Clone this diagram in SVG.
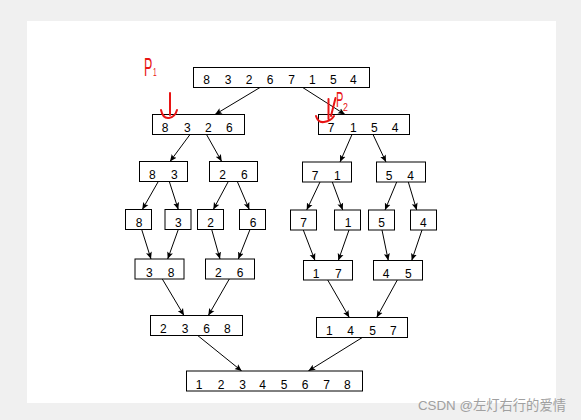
<svg xmlns="http://www.w3.org/2000/svg" width="581" height="420" viewBox="0 0 581 420">
<defs>
<marker id="ah" markerWidth="8" markerHeight="7" refX="7" refY="3.5" orient="auto" markerUnits="userSpaceOnUse">
<path d="M0,0.5 L7,3.5 L0,6.5 L1.5,3.5 z" fill="#000"/>
</marker>
<style>
.b{fill:#fff;stroke:#000;stroke-width:1}
.t{font-family:"Liberation Sans",Arial,sans-serif;font-size:12px;fill:#000;text-anchor:middle}
.c line{stroke:#000;stroke-width:1;marker-end:url(#ah)}
.r{fill:none;stroke:#e81414;stroke-width:2;stroke-linecap:round;stroke-linejoin:round}
.rt{font-family:"Liberation Sans",Arial,sans-serif;fill:#e81414}
</style>
</defs>
<rect x="0" y="0" width="581" height="420" fill="#f0f0f0"/>
<rect x="27" y="21" width="529" height="382" fill="#fff"/>

<g class="c" id="connectors">
<line x1="260" y1="87.5" x2="215" y2="114.5"/>
<line x1="302.7" y1="87.5" x2="345" y2="114.5"/>
<line x1="190" y1="134.5" x2="170" y2="161.5"/>
<line x1="206.5" y1="134.5" x2="221.7" y2="161.5"/>
<line x1="352" y1="134.5" x2="340" y2="162"/>
<line x1="373" y1="134.5" x2="386" y2="162"/>
<line x1="158.3" y1="181.5" x2="142.3" y2="209.5"/>
<line x1="169.3" y1="181.5" x2="178.3" y2="209.5"/>
<line x1="228.3" y1="181.5" x2="213.3" y2="209.5"/>
<line x1="237.3" y1="181.5" x2="249.3" y2="209.5"/>
<line x1="320" y1="182" x2="306.7" y2="210"/>
<line x1="332.3" y1="182" x2="342.7" y2="210"/>
<line x1="396.7" y1="182" x2="385" y2="210"/>
<line x1="408.3" y1="182" x2="416.7" y2="210"/>
<line x1="141.7" y1="229.5" x2="151" y2="259"/>
<line x1="178.3" y1="229.5" x2="167.7" y2="259"/>
<line x1="211.7" y1="229.5" x2="220" y2="259"/>
<line x1="250" y1="229.5" x2="238.3" y2="259"/>
<line x1="303.3" y1="230" x2="315" y2="260.5"/>
<line x1="349" y1="230" x2="338.3" y2="260.5"/>
<line x1="382" y1="230" x2="388.3" y2="260.5"/>
<line x1="422" y1="230" x2="411.7" y2="260.5"/>
<line x1="162.3" y1="279" x2="184" y2="315.5"/>
<line x1="229.3" y1="279" x2="208.3" y2="315.5"/>
<line x1="327.7" y1="280" x2="349.3" y2="317.5"/>
<line x1="397.3" y1="280" x2="376.7" y2="317.5"/>
<line x1="197.7" y1="335.5" x2="241.7" y2="371"/>
<line x1="362.3" y1="337.5" x2="308.3" y2="371"/>
</g>

<g id="n-top"><rect class="b" x="193.5" y="67.5" width="176" height="20"/>
<text class="t" y="84"><tspan x="206.7">8</tspan><tspan x="228">3</tspan><tspan x="249">2</tspan><tspan x="270">6</tspan><tspan x="291.7">7</tspan><tspan x="312.3">1</tspan><tspan x="333.3">5</tspan><tspan x="353.3">4</tspan></text></g>

<g id="n-8326"><rect class="b" x="152.5" y="114.5" width="92" height="20"/>
<text class="t" y="131.5"><tspan x="165">8</tspan><tspan x="187.3">3</tspan><tspan x="208.3">2</tspan><tspan x="229.3">6</tspan></text></g>
<g id="n-7154"><rect class="b" x="318.5" y="114.5" width="91" height="20"/>
<text class="t" y="131.5"><tspan x="331">7</tspan><tspan x="353.3">1</tspan><tspan x="374.3">5</tspan><tspan x="395">4</tspan></text></g>

<g id="n-83"><rect class="b" x="139.5" y="161.5" width="48" height="20"/>
<text class="t" y="179"><tspan x="152.3">8</tspan><tspan x="174.3">3</tspan></text></g>
<g id="n-26a"><rect class="b" x="209.5" y="161.5" width="48" height="20"/>
<text class="t" y="179"><tspan x="222.7">2</tspan><tspan x="244.3">6</tspan></text></g>
<g id="n-71"><rect class="b" x="302.5" y="162" width="49" height="20"/>
<text class="t" y="179.5"><tspan x="315">7</tspan><tspan x="337.3">1</tspan></text></g>
<g id="n-54"><rect class="b" x="376.5" y="162" width="49" height="20"/>
<text class="t" y="179.5"><tspan x="389">5</tspan><tspan x="410.7">4</tspan></text></g>

<g id="n-8"><rect class="b" x="125.5" y="209.5" width="26" height="20"/><text class="t" x="139" y="226.5">8</text></g>
<g id="n-3"><rect class="b" x="165" y="209.5" width="26" height="20"/><text class="t" x="178.3" y="226.5">3</text></g>
<g id="n-2"><rect class="b" x="197.5" y="209.5" width="26" height="20"/><text class="t" x="210.7" y="226.5">2</text></g>
<g id="n-6"><rect class="b" x="239.5" y="209.5" width="26" height="20"/><text class="t" x="253" y="226.5">6</text></g>
<g id="n-7"><rect class="b" x="290.5" y="210" width="26" height="20"/><text class="t" x="303.5" y="227">7</text></g>
<g id="n-1"><rect class="b" x="334.5" y="210" width="26" height="20"/><text class="t" x="348" y="227">1</text></g>
<g id="n-5"><rect class="b" x="368.5" y="210" width="26" height="20"/><text class="t" x="381.7" y="227">5</text></g>
<g id="n-4"><rect class="b" x="410.5" y="210" width="26" height="20"/><text class="t" x="423.3" y="227">4</text></g>

<g id="n-38"><rect class="b" x="135" y="259" width="49" height="20"/>
<text class="t" y="276.5"><tspan x="149.3">3</tspan><tspan x="171">8</tspan></text></g>
<g id="n-26b"><rect class="b" x="205.5" y="259" width="49" height="20"/>
<text class="t" y="276.5"><tspan x="218.3">2</tspan><tspan x="240">6</tspan></text></g>
<g id="n-17"><rect class="b" x="303.5" y="260.5" width="49" height="19.5"/>
<text class="t" y="278"><tspan x="316">1</tspan><tspan x="338.3">7</tspan></text></g>
<g id="n-45"><rect class="b" x="373.5" y="260.5" width="49" height="19.5"/>
<text class="t" y="278"><tspan x="386">4</tspan><tspan x="408.3">5</tspan></text></g>

<g id="n-2368"><rect class="b" x="150.5" y="315.5" width="92" height="20"/>
<text class="t" y="333"><tspan x="163.3">2</tspan><tspan x="185">3</tspan><tspan x="206.7">6</tspan><tspan x="227.3">8</tspan></text></g>
<g id="n-1457"><rect class="b" x="316.5" y="317.5" width="91" height="20"/>
<text class="t" y="335"><tspan x="329.3">1</tspan><tspan x="350.7">4</tspan><tspan x="372.7">5</tspan><tspan x="393.3">7</tspan></text></g>

<g id="n-final"><rect class="b" x="186.5" y="371" width="176" height="20"/>
<text class="t" y="389"><tspan x="199">1</tspan><tspan x="221">2</tspan><tspan x="242.7">3</tspan><tspan x="262.7">4</tspan><tspan x="284">5</tspan><tspan x="305">6</tspan><tspan x="326.7">7</tspan><tspan x="347.3">8</tspan></text></g>

<g id="annot-p1">
<text class="rt" font-size="25" transform="translate(144,76) scale(0.5,1)">P</text>
<text class="rt" font-size="11" transform="translate(153,76) scale(0.6,1)">1</text>
<path class="r" d="M170,93 L170,115 M161,110 Q163,119 169,118 Q175,117 177,110"/>
</g>
<g id="annot-p2">
<text class="rt" font-size="22" transform="translate(336,107) scale(0.5,1)">P</text>
<text class="rt" font-size="11" transform="translate(343,111) scale(0.8,1)">2</text>
<path class="r" d="M328.5,99 L328.5,119 M316,116 Q318,123 324,122 Q331,121 334,116 M335.5,98 L331,116"/>
</g>

<text x="418" y="409.5" font-family="'Liberation Sans','Noto Sans CJK SC',sans-serif" font-size="13.5" fill="#a0a0a0" textLength="148" lengthAdjust="spacingAndGlyphs">CSDN @左灯右行的爱情</text>
</svg>
